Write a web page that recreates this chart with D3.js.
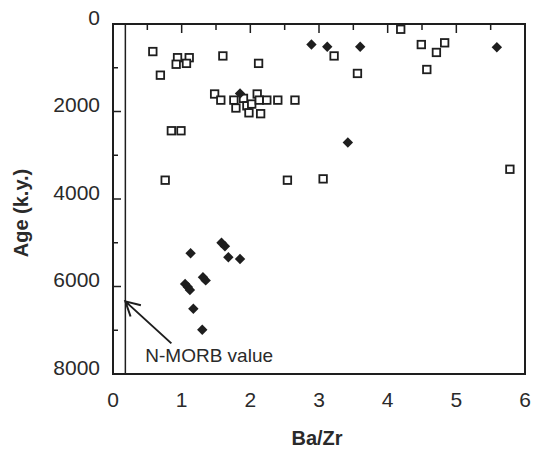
<!DOCTYPE html>
<html>
<head>
<meta charset="utf-8">
<script src="https://cdn.jsdelivr.net/npm/d3@7"></script>
<style>
  body { margin: 0; background: #fff; }
  text { font-family: "Liberation Sans", Arial, Helvetica, sans-serif; fill: #2a2a2a; }
</style>
</head>
<body>
<div id="chart"></div>
<script>
// Open squares: [Ba/Zr, age k.y.]
const openSquares = [
    [0.58, 630], [0.94, 770], [1.11, 770], [0.92, 920], [1.07, 900], [0.69, 1170],
    [1.60, 730], [2.12, 900],
    [1.48, 1600], [1.57, 1740], [1.76, 1740], [1.79, 1920], [1.90, 1700], [1.95, 1870],
    [1.98, 2030], [2.02, 1830], [2.10, 1600], [2.13, 1740], [2.15, 2050], [2.24, 1740],
    [2.40, 1740], [2.65, 1740],
    [0.85, 2440], [0.99, 2440], [0.76, 3570], [2.54, 3570],
    [3.22, 730], [3.56, 1130], [4.19, 120], [4.49, 470], [4.71, 650], [4.83, 430],
    [4.57, 1040], [3.06, 3540], [5.78, 3320]
];

// Filled diamonds: [Ba/Zr, age k.y.]
const filledDiamonds = [
    [1.85, 1590], [2.89, 470], [3.12, 520], [3.60, 520], [5.59, 530], [3.42, 2710],
    [1.13, 5240], [1.58, 5000], [1.63, 5080], [1.68, 5330], [1.85, 5370],
    [1.05, 5940], [1.09, 6010], [1.12, 6080], [1.31, 5790], [1.35, 5860],
    [1.17, 6510], [1.30, 6990]
];

const xTicks = [0, 1, 2, 3, 4, 5, 6];
const yTicks = [0, 2000, 4000, 6000, 8000];

// N-MORB reference value and its annotation
const nmorbValue = 0.18;
const nmorbArrow = { tip: [0.18, 6340], tail: [0.85, 7300] };
const nmorbLabel = { text: "N-MORB value", at: [0.47, 7730] };

const width = 533;
const height = 453;

const svg = d3.select("#chart")
    .append("svg")
    .attr("width", width)
    .attr("height", height);

const x = d3.scaleLinear().domain([0, 6]).range([113, 525]);
const y = d3.scaleLinear().domain([0, 8000]).range([24, 374]);

const ink = "#1e1e1e";

// Frame
svg.append("rect")
    .attr("x", x(0))
    .attr("y", y(0))
    .attr("width", x(6) - x(0))
    .attr("height", y(8000) - y(0))
    .attr("fill", "none")
    .attr("stroke", ink)
    .attr("stroke-width", 2);

// Top ticks (inward)
const topAxis = svg.append("g").attr("transform", `translate(0,${y(0)})`);
topAxis.selectAll("line")
    .data(d3.range(0.5, 6, 0.5))
    .join("line")
    .attr("x1", d => x(d))
    .attr("x2", d => x(d))
    .attr("y1", 0)
    .attr("y2", d => Number.isInteger(d) ? 9 : 6)
    .attr("stroke", ink)
    .attr("stroke-width", 1.5);

// Left ticks (inward)
const leftAxis = svg.append("g").attr("transform", `translate(${x(0)},0)`);
leftAxis.selectAll("line")
    .data(d3.range(1000, 8000, 1000))
    .join("line")
    .attr("x1", 0)
    .attr("x2", d => d % 2000 === 0 ? 8 : 5)
    .attr("y1", d => y(d))
    .attr("y2", d => y(d))
    .attr("stroke", ink)
    .attr("stroke-width", 1.5);

// Tick labels
svg.append("g")
    .selectAll("text")
    .data(yTicks)
    .join("text")
    .attr("x", 100)
    .attr("y", d => y(d) - 7)
    .attr("dy", "0.36em")
    .attr("text-anchor", "end")
    .attr("font-size", 21)
    .text(d => d);

svg.append("g")
    .selectAll("text")
    .data(xTicks)
    .join("text")
    .attr("x", d => x(d))
    .attr("y", y(8000) + 25)
    .attr("dy", "0.36em")
    .attr("text-anchor", "middle")
    .attr("font-size", 21)
    .text(d => d);

// Axis titles
svg.append("text")
    .attr("x", 317)
    .attr("y", 438)
    .attr("dy", "0.36em")
    .attr("text-anchor", "middle")
    .attr("font-size", 20)
    .attr("font-weight", "bold")
    .text("Ba/Zr");

svg.append("text")
    .attr("transform", "translate(21,213) rotate(-90)")
    .attr("dy", "0.36em")
    .attr("text-anchor", "middle")
    .attr("font-size", 20)
    .attr("font-weight", "bold")
    .text("Age (k.y.)");

// N-MORB line
svg.append("line")
    .attr("x1", x(nmorbValue))
    .attr("x2", x(nmorbValue))
    .attr("y1", y(0))
    .attr("y2", y(8000))
    .attr("stroke", ink)
    .attr("stroke-width", 1.5);

// Arrow
const [tx, ty] = [x(nmorbArrow.tip[0]), y(nmorbArrow.tip[1])];
const [sx, sy] = [x(nmorbArrow.tail[0]), y(nmorbArrow.tail[1])];
const ang = Math.atan2(sy - ty, sx - tx);
const headLen = 16, spread = 0.5;
svg.append("path")
    .attr("d", `M${sx},${sy}L${tx},${ty}` +
        `M${tx + headLen * Math.cos(ang - spread)},${ty + headLen * Math.sin(ang - spread)}` +
        `L${tx},${ty}` +
        `L${tx + headLen * Math.cos(ang + spread)},${ty + headLen * Math.sin(ang + spread)}`)
    .attr("fill", "none")
    .attr("stroke", ink)
    .attr("stroke-width", 2);

svg.append("text")
    .attr("x", x(nmorbLabel.at[0]))
    .attr("y", y(nmorbLabel.at[1]))
    .attr("font-size", 19)
    .text(nmorbLabel.text);

// Open squares
const sq = 7.5;
svg.append("g")
    .selectAll("rect")
    .data(openSquares)
    .join("rect")
    .attr("x", d => x(d[0]) - sq / 2)
    .attr("y", d => y(d[1]) - sq / 2)
    .attr("width", sq)
    .attr("height", sq)
    .attr("fill", "#fff")
    .attr("stroke", ink)
    .attr("stroke-width", 1.8);

// Filled diamonds
const r = 5.2;
svg.append("g")
    .selectAll("path")
    .data(filledDiamonds)
    .join("path")
    .attr("d", d => {
        const cx = x(d[0]), cy = y(d[1]);
        return `M${cx},${cy - r}L${cx + r},${cy}L${cx},${cy + r}L${cx - r},${cy}Z`;
    })
    .attr("fill", ink);
</script>
</body>
</html>
